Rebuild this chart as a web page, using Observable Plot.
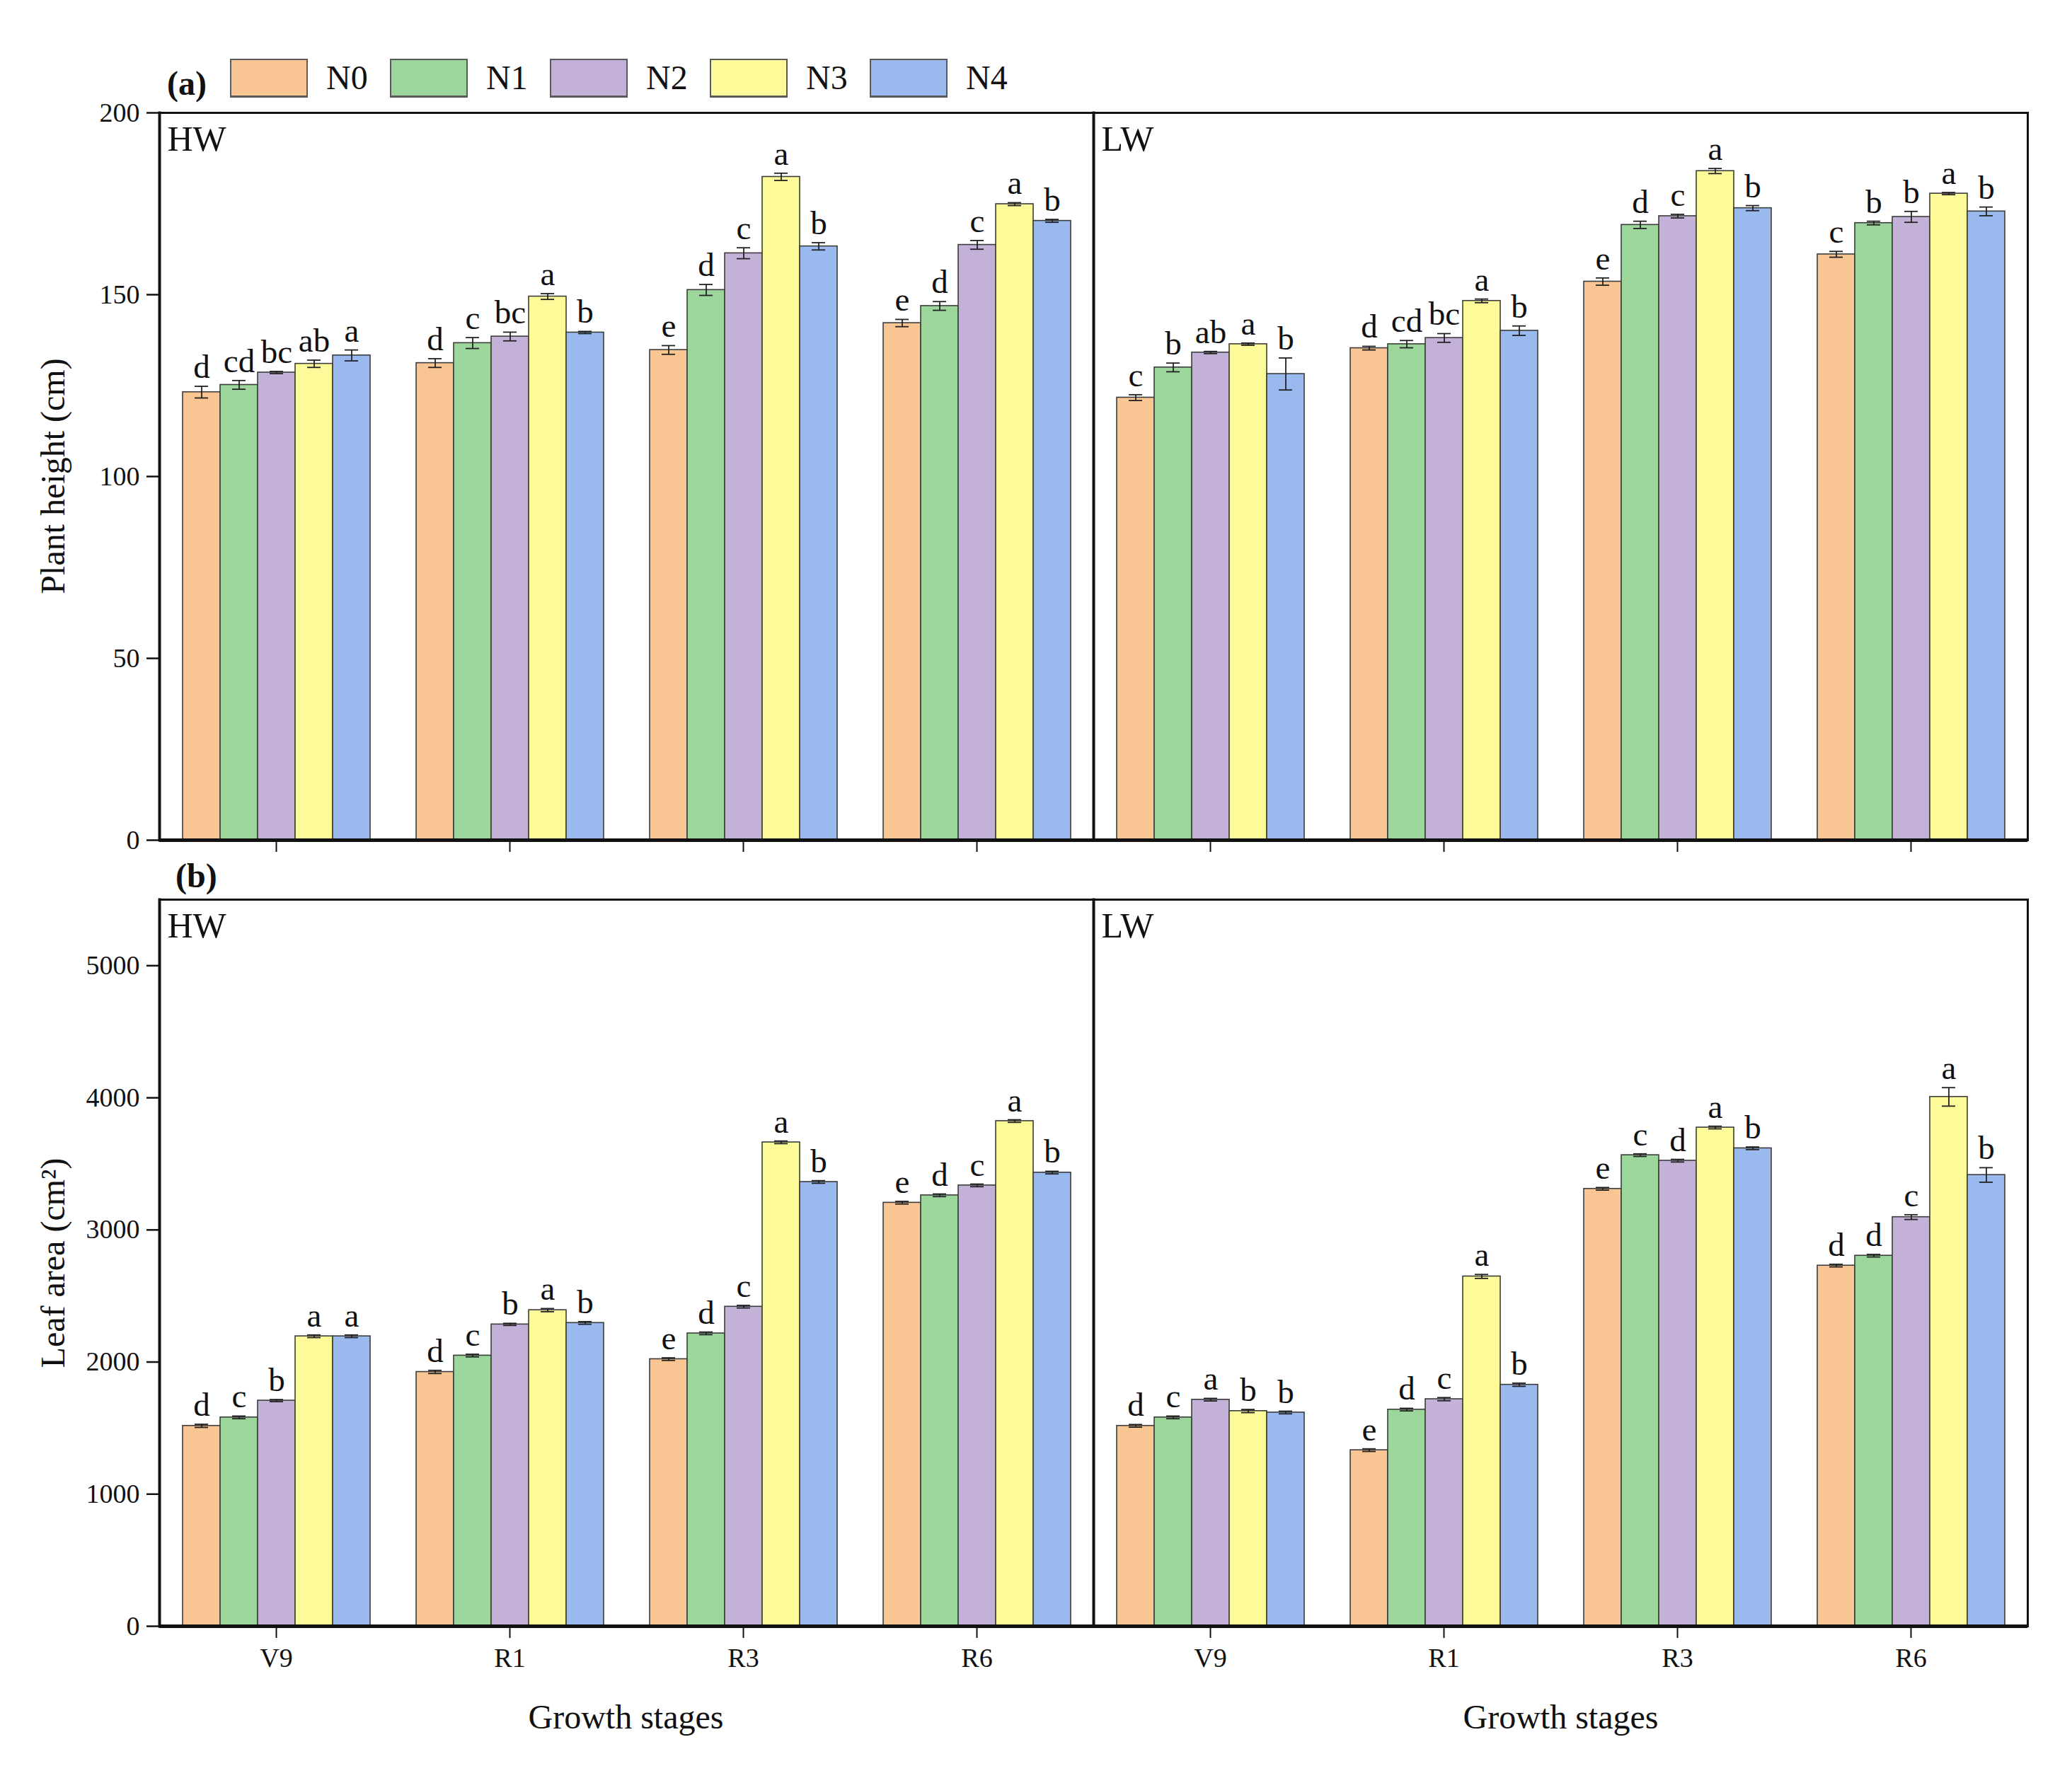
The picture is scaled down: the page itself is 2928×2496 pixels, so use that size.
<!DOCTYPE html>
<html>
<head>
<meta charset="utf-8">
<script src="https://cdn.jsdelivr.net/npm/d3@7"></script>
<script src="https://cdn.jsdelivr.net/npm/@observablehq/plot@0.6"></script>
<style>
  html, body { margin: 0; padding: 0; background: #fff; }
  #root { position: relative; width: 2928px; height: 2496px; font-family: "Liberation Serif", "Times New Roman", serif; color: #111; background: #fff; overflow: hidden; }
  .abs { position: absolute; }
  .plotwrap { position: absolute; left: 0; }
  .plotwrap svg { background: transparent; }
  .tag { font-weight: bold; font-size: 48px; line-height: 48px; }
  .ylab { font-size: 48px; white-space: nowrap; transform: translate(-50%, -50%) rotate(-90deg); line-height: 1; }
  .xlab { font-size: 48px; white-space: nowrap; transform: translate(-50%, -50%); line-height: 1; }
  .legend-item { position: absolute; display: flex; align-items: center; height: 54px; }
  .swatch { width: 106px; height: 50px; border: 2px solid #5a5a5a; border-bottom-width: 3px; box-sizing: content-box; }
  .legend-label { font-size: 48px; margin-left: 26px; line-height: 1; }
</style>
</head>
<body>
<div id="root"></div>
<script>
// ---------- data ----------
const treatments = ["N0", "N1", "N2", "N3", "N4"];
const colors = ["#F9C592", "#9CD69B", "#C3B1D7", "#FDFB99", "#9AB9EF"];
const stages = ["V9", "R1", "R3", "R6"];
const regimes = ["HW", "LW"];

// Plant height (cm): rows = stages, columns = treatments
const heightHW = [
  [123.2, 125.2, 128.6, 131.0, 133.3],
  [131.2, 136.7, 138.5, 149.5, 139.6],
  [134.8, 151.3, 161.4, 182.4, 163.3],
  [142.2, 146.9, 163.7, 174.9, 170.3]
];
const heightHWse = [
  [1.6, 1.2, 0.3, 1.0, 1.5],
  [1.2, 1.5, 1.2, 0.8, 0.3],
  [1.2, 1.5, 1.5, 1.0, 1.0],
  [1.0, 1.2, 1.2, 0.4, 0.4]
];
const heightHWsig = [
  ["d", "cd", "bc", "ab", "a"],
  ["d", "c", "bc", "a", "b"],
  ["e", "d", "c", "a", "b"],
  ["e", "d", "c", "a", "b"]
];
const heightLW = [
  [121.7, 130.0, 134.1, 136.4, 128.2],
  [135.3, 136.4, 138.1, 148.3, 140.1],
  [153.6, 169.2, 171.6, 184.0, 173.8],
  [161.1, 169.7, 171.4, 177.8, 172.9]
];
const heightLWse = [
  [0.8, 1.2, 0.3, 0.3, 4.4],
  [0.5, 1.0, 1.2, 0.5, 1.3],
  [1.0, 1.0, 0.5, 0.7, 0.7],
  [0.8, 0.5, 1.5, 0.3, 1.2]
];
const heightLWsig = [
  ["c", "b", "ab", "a", "b"],
  ["d", "cd", "bc", "a", "b"],
  ["e", "d", "c", "a", "b"],
  ["c", "b", "b", "a", "b"]
];

// Leaf area (cm2)
const leafHW = [
  [1517, 1581, 1708, 2195, 2195],
  [1925, 2049, 2285, 2393, 2296],
  [2022, 2217, 2419, 3663, 3363],
  [3206, 3262, 3337, 3824, 3434]
];
const leafHWse = [
  [12, 10, 8, 10, 10],
  [12, 10, 8, 12, 10],
  [10, 10, 10, 10, 10],
  [10, 10, 10, 10, 10]
];
const leafHWsig = [
  ["d", "c", "b", "a", "a"],
  ["d", "c", "b", "a", "b"],
  ["e", "d", "c", "a", "b"],
  ["e", "d", "c", "a", "b"]
];
const leafLW = [
  [1517, 1581, 1715, 1629, 1618],
  [1333, 1640, 1719, 2648, 1828],
  [3311, 3566, 3524, 3775, 3618],
  [2730, 2805, 3097, 4007, 3416]
];
const leafLWse = [
  [10, 10, 10, 12, 10],
  [10, 10, 12, 15, 12],
  [10, 10, 10, 10, 10],
  [10, 10, 18, 70, 55]
];
const leafLWsig = [
  ["d", "c", "a", "b", "b"],
  ["e", "d", "c", "a", "b"],
  ["e", "c", "d", "a", "b"],
  ["d", "d", "c", "a", "b"]
];

const heightTicks = [0, 50, 100, 150, 200];
const leafTicks = [0, 1000, 2000, 3000, 4000, 5000];

// ---------- build tables ----------
function buildRows(byRegime) {
  const rows = [];
  regimes.forEach((r) => {
    const [vals, ses, sigs] = byRegime[r];
    stages.forEach((s, si) => {
      treatments.forEach((t, ti) => {
        rows.push({key: r + "|" + s, regime: r, stage: s, treatment: t,
                   value: vals[si][ti], se: ses[si][ti], sig: sigs[si][ti]});
      });
    });
  });
  return rows;
}
const heightRows = buildRows({HW: [heightHW, heightHWse, heightHWsig], LW: [heightLW, heightLWse, heightLWsig]});
const leafRows = buildRows({HW: [leafHW, leafHWse, leafHWsig], LW: [leafLW, leafLWse, leafLWsig]});

const W = 2928, ML = 224, MR = 62;
const keys = regimes.flatMap((r) => stages.map((s) => r + "|" + s));
const panelLabels = regimes.map((r) => ({key: r + "|" + stages[0], label: r}));

function chart({rows, yDomain, yTicks, height, marginTop, marginBottom, showStageLabels}) {
  return Plot.plot({
    width: W, height, marginLeft: ML, marginRight: MR, marginTop, marginBottom,
    style: {fontFamily: "Liberation Serif, Times New Roman, serif", fontSize: "38px", color: "#111", background: "transparent", overflow: "visible"},
    fx: {domain: keys, padding: 0},
    x: {domain: treatments, paddingInner: 0, paddingOuter: 0.6, axis: null},
    y: {domain: yDomain, axis: null},
    color: {domain: treatments, range: colors},
    marks: [
      Plot.barY(rows, {fx: "key", x: "treatment", y: "value", fill: "treatment", stroke: "#3c3c3c", strokeWidth: 1.6}),
      Plot.ruleX(rows, {fx: "key", x: "treatment", y1: (d) => d.value - d.se, y2: (d) => d.value + d.se, stroke: "#222", strokeWidth: 1.8}),
      Plot.tickY(rows, {fx: "key", x: "treatment", y: (d) => d.value - d.se, insetLeft: 17, insetRight: 17, stroke: "#222", strokeWidth: 1.8}),
      Plot.tickY(rows, {fx: "key", x: "treatment", y: (d) => d.value + d.se, insetLeft: 17, insetRight: 17, stroke: "#222", strokeWidth: 1.8}),
      Plot.text(rows, {fx: "key", x: "treatment", y: (d) => d.value + d.se, text: "sig", dy: -12, lineAnchor: "bottom", fontSize: 47, fill: "#111"}),
      Plot.text(panelLabels, {fx: "key", text: "label", frameAnchor: "top-left", textAnchor: "start", lineAnchor: "top", dx: 11, dy: 18, fontSize: 50, fill: "#111"}),
      Plot.ruleY([yDomain[1]], {stroke: "#111", strokeWidth: 3}),
      Plot.ruleY([0], {stroke: "#111", strokeWidth: 5}),
      Plot.frame({anchor: "left", fx: [keys[0]], stroke: "#111", strokeWidth: 4}),
      Plot.frame({anchor: "left", fx: [keys[stages.length]], stroke: "#111", strokeWidth: 4}),
      Plot.frame({anchor: "right", fx: [keys[keys.length - 1]], stroke: "#111", strokeWidth: 3}),
      Plot.axisY({ticks: yTicks, tickSize: 18, tickPadding: 10, tickFormat: (d) => String(d), label: null, fontSize: 38, strokeWidth: 2.5}),
      Plot.axisFx({anchor: "bottom", tickSize: 17, tickPadding: 14, label: null, fontSize: 38, strokeWidth: 2,
                   tickFormat: showStageLabels ? (k) => k.split("|")[1] : () => ""})
    ]
  });
}

const root = document.getElementById("root");

// legend
const tagA = document.createElement("div");
tagA.className = "abs tag"; tagA.textContent = "(a)";
tagA.style.left = "236px"; tagA.style.top = "94px";
root.appendChild(tagA);
treatments.forEach((t, i) => {
  const item = document.createElement("div");
  item.className = "legend-item";
  item.style.left = (325 + i * 226) + "px";
  item.style.top = "83px";
  const sw = document.createElement("div");
  sw.className = "swatch"; sw.style.background = colors[i];
  const lb = document.createElement("div");
  lb.className = "legend-label"; lb.textContent = t;
  item.appendChild(sw); item.appendChild(lb);
  root.appendChild(item);
});

// chart (a): plot area 159..1187
const wrapA = document.createElement("div");
wrapA.className = "plotwrap"; wrapA.style.top = "139px";
wrapA.appendChild(chart({rows: heightRows, yDomain: [0, 200], yTicks: heightTicks, height: 1088, marginTop: 20, marginBottom: 40, showStageLabels: false}));
root.appendChild(wrapA);

// chart (b): plot area 1271..2298
const wrapB = document.createElement("div");
wrapB.className = "plotwrap"; wrapB.style.top = "1251px";
wrapB.appendChild(chart({rows: leafRows, yDomain: [0, 5500], yTicks: leafTicks, height: 1147, marginTop: 20, marginBottom: 100, showStageLabels: true}));
root.appendChild(wrapB);

const tagB = document.createElement("div");
tagB.className = "abs tag"; tagB.textContent = "(b)";
tagB.style.left = "248px"; tagB.style.top = "1214px";
root.appendChild(tagB);

// axis titles
function addText(cls, text, x, y) {
  const d = document.createElement("div");
  d.className = "abs " + cls; d.textContent = text;
  d.style.left = x + "px"; d.style.top = y + "px";
  root.appendChild(d);
}
addText("ylab", "Plant height (cm)", 75, 673);
addText("ylab", "Leaf area (cm\u00B2)", 75, 1785);
const split = ML + (W - ML - MR) / 2;
addText("xlab", "Growth stages", (ML + split) / 2, 2427);
addText("xlab", "Growth stages", (split + W - MR) / 2, 2427);
</script>
</body>
</html>
